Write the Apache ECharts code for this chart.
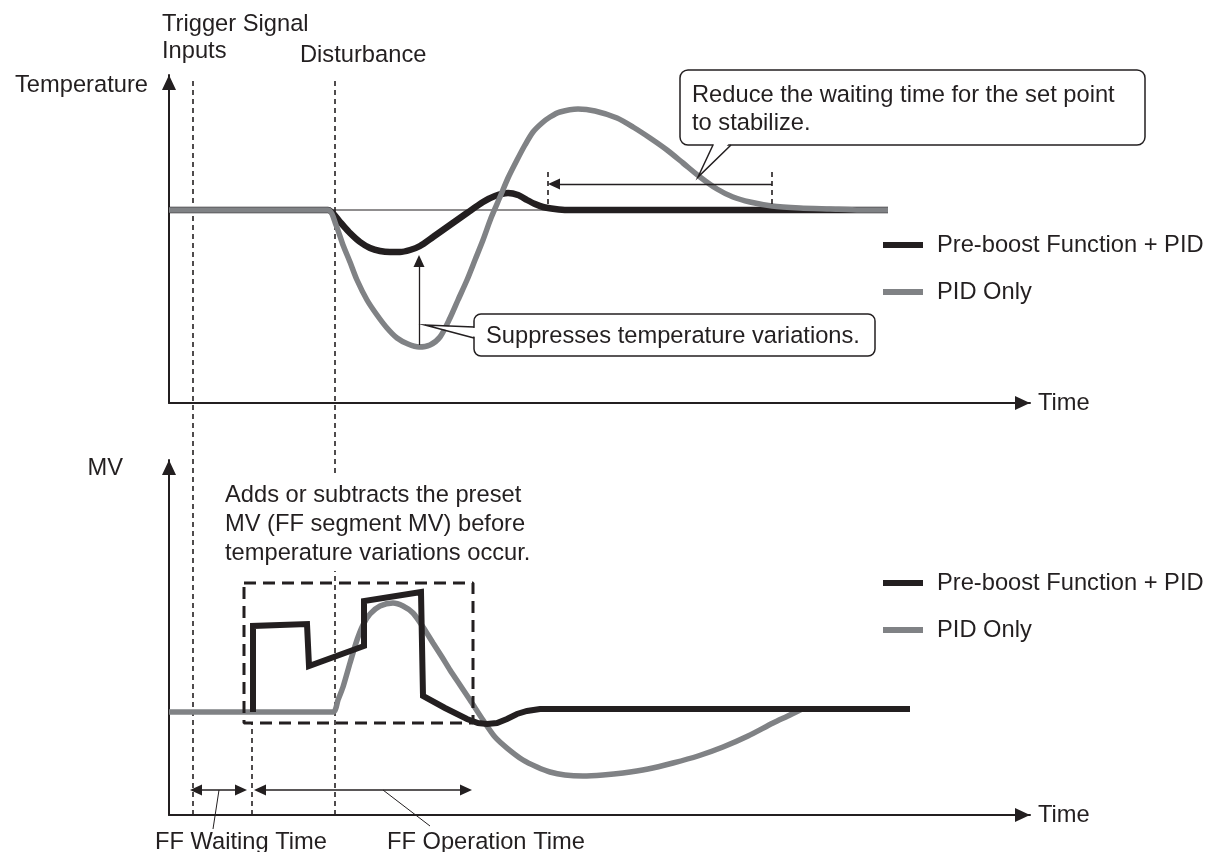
<!DOCTYPE html>
<html><head><meta charset="utf-8">
<script src="https://cdn.jsdelivr.net/npm/echarts@6/dist/echarts.min.js"></script>
<style>html,body{margin:0;padding:0;background:#fff}#c{width:1215px;height:852px}</style>
</head><body><div id="c"></div>
<script>
// ---- data (arbitrary units: time 0..861, temperature 0..328, MV 0..355) ----
const seriesNames = ['Pre-boost Function + PID', 'PID Only'];
const tempBoost = [[0,193],[159,193],[171,181],[181,170],[191,161],[201,155],[211,152],[221,151],[231,151],[241,153],[251,157],[264,166],[281,178],[298,190],[314,201],[326,207],[339,210],[349,208],[358,203],[366,199],[374,196],[386,194],[398,193],[719,193]];
const tempPid = [[0,193],[159,193],[167,178],[174,158],[181,141],[188,123],[198,103],[208,88],[218,75],[228,65],[239,59],[250,56],[261,58],[271,66],[281,85],[289,103],[298,123],[306,143],[314,163],[322,185],[331,206],[339,225],[348,243],[356,258],[364,271],[373,280],[381,286],[391,291],[409,294],[426,292],[448,285],[464,276],[481,265],[498,253],[514,240],[531,226],[548,214],[564,206],[581,201],[603,197],[631,195],[661,194],[691,193],[719,193]];
const setPoint = [[161,193],[719,193]];
const mvBoost = [[84,103],[84,189],[138,191],[140,149],[195,169],[195,214],[252,223],[254,119],[276,107],[298,96],[309,92],[318,91],[328,92],[338,96],[348,101],[358,104],[371,106],[741,106]];
const mvPid = [[0,103],[164,103],[169,115],[174,128],[181,152],[188,175],[194,190],[201,201],[211,209],[224,212],[234,209],[244,202],[254,188],[264,172],[273,158],[281,145],[291,130],[301,115],[314,95],[326,78],[338,67],[354,55],[368,48],[381,43],[396,40],[414,39],[434,40],[454,42],[479,46],[504,52],[529,59],[554,68],[579,79],[604,92],[621,100],[633,106]];
const ffBox = [[75,232],[304,232],[304,92],[75,92],[75,232]];
const triggerTime = 24, disturbanceTime = 166, ffStartTime = 83;
const markerTop = 738, ffStartTop = 92;              // overlay units
const stabilizeSpan = [379, 603], stabilizeLevel = 219, stabilizeTick = [196, 231];
const suppressAt = 250, suppressRange = [58, 148];
const ffWaitSpan = [21, 78], ffOperSpan = [85, 303], ffArrowLevel = 25;

// ---- style ----
const BLACK = '#231f20', GRAY = '#808285';
const FF = '"Liberation Sans", Arial, Helvetica, sans-serif';
const FS = 23.7;
const FONT = FS + 'px ' + FF;
const HEAD = 12;

function axisX(i, name) {
  return {gridIndex:i, type:'value', min:0, max:861,
    axisLine:{show:true, onZero:false, symbol:['none','triangle'], symbolSize:[14,15], symbolOffset:[0,-7.5], lineStyle:{color:BLACK,width:2}},
    axisTick:{show:false}, axisLabel:{show:false}, splitLine:{show:false},
    name:name, nameLocation:'end', nameGap:8, nameTextStyle:{fontSize:FS, color:BLACK, fontFamily:FF}};
}
function axisY(i, max) {
  return {gridIndex:i, type:'value', min:0, max:max,
    axisLine:{show:true, onZero:false, symbol:['none','triangle'], symbolSize:[14,15], symbolOffset:[0,-7.5], lineStyle:{color:BLACK,width:2}},
    axisTick:{show:false}, axisLabel:{show:false}, splitLine:{show:false}};
}
const dashed = {color:BLACK, width:1.6, type:[5,4]};

const option = {
  animation:false,
  grid:[
    {left:169, right:185, top:75, height:328},
    {left:169, right:185, top:460, height:355},
    {left:169, right:185, top:75, height:740}
  ],
  xAxis:[axisX(0,'Time'), axisX(1,'Time'), {gridIndex:2, type:'value', min:0, max:861, show:false}],
  yAxis:[axisY(0,328), axisY(1,355), {gridIndex:2, type:'value', min:0, max:740, show:false}],
  legend:[0,1].map(i => ({
    data:seriesNames, orient:'vertical', left:878, top: i === 0 ? 228 : 566,
    icon:'rect', itemWidth:40, itemHeight:6, itemGap:23, selectedMode:false,
    textStyle:{fontSize:FS, color:BLACK, fontFamily:FF, lineHeight:24, padding:[0,0,0,9]}
  })),
  series:[
    // overlay dashed time markers
    {type:'line', xAxisIndex:2, yAxisIndex:2, data:[[triggerTime,0],[triggerTime,markerTop]], symbol:'none', lineStyle:dashed, z:1, silent:true},
    {type:'line', xAxisIndex:2, yAxisIndex:2, data:[[disturbanceTime,0],[disturbanceTime,markerTop]], symbol:'none', lineStyle:dashed, z:1, silent:true},
    {type:'line', xAxisIndex:2, yAxisIndex:2, data:[[ffStartTime,0],[ffStartTime,ffStartTop]], symbol:'none', lineStyle:dashed, z:1, silent:true},
    // top panel
    {type:'line', xAxisIndex:0, yAxisIndex:0, data:setPoint, symbol:'none', lineStyle:{color:BLACK,width:1.2}, z:2, silent:true,
      markLine:{silent:true, label:{show:false}, symbol:'none', animation:false,
        data:[
          [{coord:[stabilizeSpan[0],stabilizeTick[1]], lineStyle:dashed},{coord:[stabilizeSpan[0],stabilizeTick[0]]}],
          [{coord:[stabilizeSpan[1],stabilizeTick[1]], lineStyle:dashed},{coord:[stabilizeSpan[1],stabilizeTick[0]]}],
          [{coord:[stabilizeSpan[0]+HEAD/2,stabilizeLevel], symbol:'triangle', symbolSize:[11,HEAD], lineStyle:{color:BLACK,width:1.3,type:'solid'}},{coord:[stabilizeSpan[1],stabilizeLevel], symbol:'none'}],
          [{coord:[suppressAt,suppressRange[0]], symbol:'none', lineStyle:{color:BLACK,width:1.3,type:'solid'}},{coord:[suppressAt,suppressRange[1]-HEAD/2], symbol:'triangle', symbolSize:[11,HEAD]}]
        ]}},
    {name:seriesNames[0], type:'line', xAxisIndex:0, yAxisIndex:0, data:tempBoost, symbol:'none', smooth:0.25, color:BLACK, lineStyle:{color:BLACK,width:6.5}, z:3},
    {name:seriesNames[1], type:'line', xAxisIndex:0, yAxisIndex:0, data:tempPid, symbol:'none', smooth:0.25, color:GRAY, lineStyle:{color:GRAY,width:5.5}, z:4},
    // bottom panel
    {name:seriesNames[1], type:'line', xAxisIndex:1, yAxisIndex:1, data:mvPid, symbol:'none', smooth:0.25, color:GRAY, lineStyle:{color:GRAY,width:5.5}, z:3},
    {name:seriesNames[0], type:'line', xAxisIndex:1, yAxisIndex:1, data:mvBoost, symbol:'none', color:BLACK, lineStyle:{color:BLACK,width:6,join:'miter',cap:'butt'}, z:4},
    {type:'line', xAxisIndex:1, yAxisIndex:1, data:ffBox, symbol:'none', lineStyle:{color:BLACK,width:3,type:[12,7]}, z:5, silent:true,
      markLine:{silent:true, label:{show:false}, symbol:'none', animation:false,
        lineStyle:{color:BLACK,width:1.5,type:'solid'},
        data:[
          [{coord:[ffWaitSpan[0]+HEAD/2,ffArrowLevel], symbol:'triangle', symbolSize:[11,HEAD]},{coord:[ffWaitSpan[1]-HEAD/2,ffArrowLevel], symbol:'triangle', symbolSize:[11,HEAD]}],
          [{coord:[ffOperSpan[0]+HEAD/2,ffArrowLevel], symbol:'triangle', symbolSize:[11,HEAD]},{coord:[ffOperSpan[1]-HEAD/2,ffArrowLevel], symbol:'triangle', symbolSize:[11,HEAD]}]
        ]}}
  ],
  graphic:[
    {type:'text', z:100, style:{text:'Trigger Signal\nInputs', x:162, y:11, font:FONT, fill:BLACK, lineHeight:27, align:'left', verticalAlign:'top'}},
    {type:'text', z:100, style:{text:'Disturbance', x:300, y:55, font:FONT, fill:BLACK, align:'left', verticalAlign:'middle'}},
    {type:'text', z:100, style:{text:'Temperature', x:148, y:85, font:FONT, fill:BLACK, align:'right', verticalAlign:'middle'}},
    {type:'text', z:100, style:{text:'MV', x:123, y:468, font:FONT, fill:BLACK, align:'right', verticalAlign:'middle'}},
    {type:'text', z:100, style:{text:'Adds or subtracts the preset\nMV (FF segment MV) before\ntemperature variations occur.', x:222, y:475, font:FONT, fill:BLACK, lineHeight:29, align:'left', verticalAlign:'top', backgroundColor:'#fff', padding:[6,3,3,3]}},
    // callout 1
    {type:'rect', z:100, shape:{x:680, y:70, width:465, height:75, r:8}, style:{fill:'#fff', stroke:BLACK, lineWidth:1.5}},
    {type:'polygon', z:101, shape:{points:[[714.5,143],[698,177],[729.5,143]]}, style:{fill:'#fff'}},
    {type:'polyline', z:102, shape:{points:[[713,145],[698,177],[731,145]]}, style:{stroke:BLACK, lineWidth:1.5, fill:null}},
    {type:'text', z:103, style:{text:'Reduce the waiting time for the set point\nto stabilize.', x:692, y:81, font:FONT, fill:BLACK, lineHeight:28, align:'left', verticalAlign:'top'}},
    // callout 2
    {type:'rect', z:100, shape:{x:474, y:314, width:401, height:42, r:7}, style:{fill:'#fff', stroke:BLACK, lineWidth:1.5}},
    {type:'polygon', z:101, shape:{points:[[476,328],[425,325],[476,337]]}, style:{fill:'#fff'}},
    {type:'polyline', z:102, shape:{points:[[474,327],[425,325],[474,338]]}, style:{stroke:BLACK, lineWidth:1.5, fill:null}},
    {type:'text', z:103, style:{text:'Suppresses temperature variations.', x:486, y:336, font:FONT, fill:BLACK, align:'left', verticalAlign:'middle'}},
    // bottom labels + leaders
    {type:'polyline', z:100, shape:{points:[[219,790],[213,829]]}, style:{stroke:BLACK, lineWidth:1, fill:null}},
    {type:'polyline', z:100, shape:{points:[[383,790],[430,826]]}, style:{stroke:BLACK, lineWidth:1, fill:null}},
    {type:'text', z:100, style:{text:'FF Waiting Time', x:155, y:842, font:FONT, fill:BLACK, align:'left', verticalAlign:'middle'}},
    {type:'text', z:100, style:{text:'FF Operation Time', x:387, y:842, font:FONT, fill:BLACK, align:'left', verticalAlign:'middle'}}
  ]
};
const chart = echarts.init(document.getElementById('c'), null, {renderer:'canvas'});
chart.setOption(option);
</script>
</body></html>
